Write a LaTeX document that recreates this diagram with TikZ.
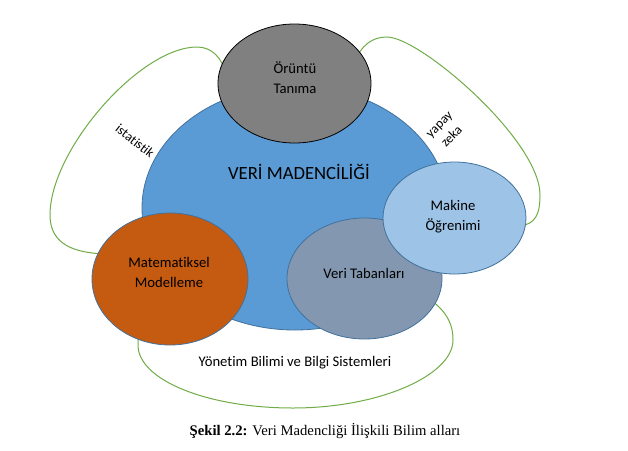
\documentclass[tikz,border=0pt]{standalone}
\usepackage{fontspec}
\setmainfont{Carlito}[Ligatures=NoCommon]
\newfontfamily\capfont{Liberation Serif}
\usetikzlibrary{shapes.geometric}
\definecolor{mdblue}{HTML}{5B9BD5}
\definecolor{mdedge}{HTML}{41719C}
\definecolor{mdgray}{HTML}{808080}
\definecolor{mdorange}{HTML}{C55A11}
\definecolor{mdslate}{HTML}{8497B0}
\definecolor{mdlight}{HTML}{9DC3E6}
\definecolor{mdgreen}{HTML}{70AD47}
\tikzset{
  blob/.style={ellipse, draw=mdedge, line width=0.8pt, inner sep=0pt},
  loopline/.style={draw=mdgreen, line width=1pt},
  lbl/.style={font=\fontsize{14.67}{20}\selectfont, text=black, align=center, inner sep=0pt},
  small/.style={font=\fontsize{13.33}{17.5}\selectfont, text=black, align=center, inner sep=0pt},
}
\begin{document}
\begin{tikzpicture}[x=1pt,y=-1pt]
\fill[white] (0,0) rectangle (628,450);
\useasboundingbox (0,0) rectangle (628,450);
% green loops
\coordinate (l0) at (226,74);
\coordinate (l1) at (106,254);
\draw[loopline] (l0) .. controls (222,58) and (212,47) .. (197,47)
  .. controls (140,47) and (50,150) .. (50,215)
  .. controls (50,245) and (75,253) .. (l1);
\coordinate (r0) at (354,62);
\coordinate (r1) at (520,226);
\draw[loopline] (r0) .. controls (362,45) and (372,37) .. (387,37)
  .. controls (420,37) and (540,140) .. (540,195)
  .. controls (540,215) and (535,224) .. (r1);
\coordinate (b0) at (142,326);
\coordinate (b1) at (428,298);
\draw[loopline] (b0) .. controls (139,333) and (138,338) .. (138,345)
  .. controls (138,380) and (207,408) .. (293,408)
  .. controls (380,408) and (453,375) .. (453,340)
  .. controls (453,322) and (445,310) .. (b1);
% ellipses
\node[blob, fill=mdblue, minimum width=306pt, minimum height=244pt] (dm) at (295,208) {};
\node[blob, fill=mdgray, draw=black, minimum width=153pt, minimum height=119pt] (ot) at (294.5,83.5) {};
\node[blob, fill=mdorange, minimum width=156pt, minimum height=132pt] (mm) at (170,279) {};
\node[blob, fill=mdslate, minimum width=155pt, minimum height=121pt] (vt) at (364.5,278.5) {};
\node[blob, fill=mdlight, minimum width=143pt, minimum height=112pt] (mo) at (454.5,218) {};
% texts
\node[font=\fontsize{18.67}{22}\selectfont, inner sep=0pt] (dmt) at (299,172) {VERİ MADENCİLİĞİ};
\node[lbl] (ott) at (295,78) {Örüntü\\Tanıma};
\node[lbl] (mmt) at (169,272.5) {Matematiksel\\Modelleme};
\node[lbl] (vtt) at (364,273) {Veri Tabanları};
\node[lbl] (mot) at (453,216.5) {Makine\\Öğrenimi};
\node[small, rotate=-38] (ist) at (135,141) {istatistik};
\node[small, rotate=45] (yz) at (446,131) {yapay\\zeka};
\node[lbl] (ybs) at (295,363) {Yönetim Bilimi ve Bilgi Sistemleri};
\node[font=\capfont\fontsize{14.67}{18}\selectfont, inner sep=0pt] (cap) at (325,431) {\textbf{Şekil 2.2:} Veri Madencliği İlişkili Bilim alları};
\end{tikzpicture}
\end{document}
